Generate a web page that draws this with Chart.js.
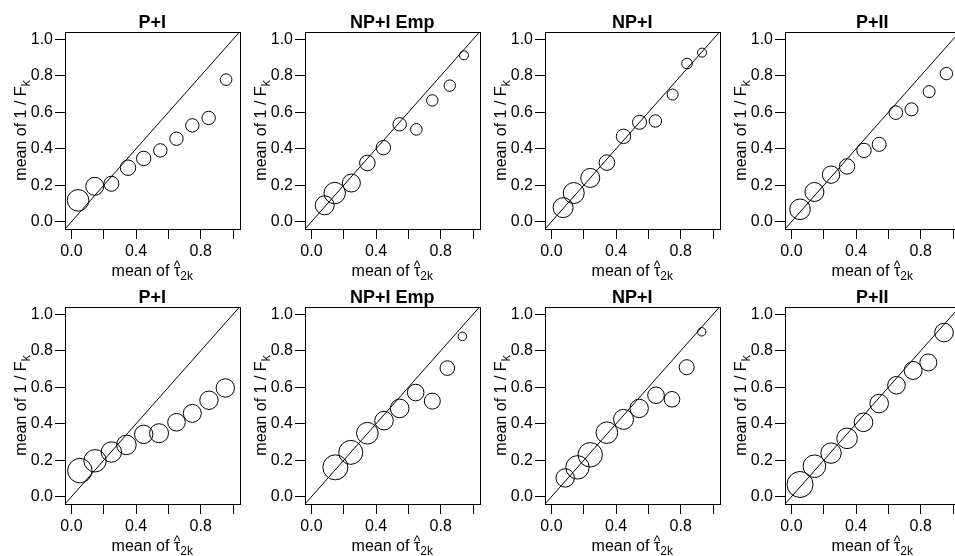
<!DOCTYPE html>
<html><head><meta charset="utf-8">
<script src="https://cdn.jsdelivr.net/npm/chart.js@4/dist/chart.umd.min.js"></script>
<style>
html,body{margin:0;padding:0;background:#fff;overflow:hidden;width:955px;height:556px;position:relative;}
.p{position:absolute;width:244px;height:285px;}
</style></head><body>
<script>
// ---- tick / axis definitions ----
const axisRange = [-0.04, 1.04];
const xTicks = [0, 0.2, 0.4, 0.6, 0.8, 1.0];
const xTickLabels = ['0.0', '', '0.4', '', '0.8', ''];
const yTicks = [0, 0.2, 0.4, 0.6, 0.8, 1.0];
const yTickLabels = ['0.0', '0.2', '0.4', '0.6', '0.8', '1.0'];
const panelTitles = ['P+I', 'NP+I Emp', 'NP+I', 'P+II', 'P+I', 'NP+I Emp', 'NP+I', 'P+II'];

// ---- data: mean of tau-hat (x), mean of 1/F_k (y), circle size (radius) ----
const topPI_x = [0.041, 0.144, 0.247, 0.350, 0.447, 0.550, 0.650, 0.748, 0.849, 0.957];
const topPI_y = [0.117, 0.194, 0.208, 0.296, 0.347, 0.391, 0.455, 0.528, 0.569, 0.779];
const topPI_r = [10.8, 9.0, 7.5, 7.7, 7.2, 6.7, 6.7, 6.7, 6.7, 5.8];

const topNPIEmp_x = [0.082, 0.144, 0.247, 0.346, 0.445, 0.546, 0.649, 0.748, 0.856, 0.944];
const topNPIEmp_y = [0.090, 0.157, 0.212, 0.322, 0.406, 0.534, 0.506, 0.665, 0.746, 0.912];
const topNPIEmp_r = [9.5, 10.7, 9.0, 7.8, 7.2, 6.7, 5.8, 5.7, 5.7, 4.5];

const topNPI_x = [0.072, 0.138, 0.240, 0.343, 0.446, 0.545, 0.643, 0.750, 0.839, 0.932];
const topNPI_y = [0.077, 0.157, 0.240, 0.324, 0.468, 0.545, 0.552, 0.697, 0.867, 0.927];
const topNPI_r = [10.0, 10.5, 9.5, 7.8, 7.2, 7.0, 6.2, 5.5, 5.3, 4.5];

const topPII_x = [0.053, 0.142, 0.245, 0.344, 0.449, 0.543, 0.646, 0.743, 0.852, 0.959];
const topPII_y = [0.068, 0.163, 0.258, 0.303, 0.391, 0.424, 0.598, 0.616, 0.713, 0.812];
const topPII_r = [10.3, 9.5, 8.7, 7.7, 7.2, 7.0, 6.8, 6.5, 6.0, 6.2];

const botPI_x = [0.052, 0.146, 0.247, 0.340, 0.447, 0.542, 0.650, 0.748, 0.851, 0.952];
const botPI_y = [0.143, 0.197, 0.245, 0.284, 0.342, 0.348, 0.408, 0.457, 0.529, 0.596];
const botPI_r = [12.2, 11.2, 10.2, 9.8, 9.2, 9.5, 8.8, 9.0, 9.2, 9.2];

const botNPIEmp_x = [0.148, 0.243, 0.346, 0.449, 0.546, 0.645, 0.748, 0.841, 0.934];
const botNPIEmp_y = [0.161, 0.243, 0.348, 0.417, 0.484, 0.571, 0.524, 0.705, 0.879];
const botNPIEmp_r = [12.5, 12.0, 10.8, 9.3, 9.3, 8.3, 8.0, 7.3, 4.3];

const botNPI_x = [0.085, 0.161, 0.240, 0.343, 0.446, 0.543, 0.647, 0.746, 0.837, 0.930];
const botNPI_y = [0.103, 0.161, 0.230, 0.351, 0.424, 0.484, 0.556, 0.534, 0.710, 0.904];
const botNPI_r = [9.2, 11.7, 12.2, 10.8, 10.0, 9.2, 8.3, 7.8, 7.5, 4.2];

const botPII_x = [0.053, 0.142, 0.245, 0.344, 0.446, 0.543, 0.650, 0.753, 0.847, 0.944];
const botPII_y = [0.067, 0.167, 0.239, 0.320, 0.408, 0.511, 0.611, 0.692, 0.736, 0.900];
const botPII_r = [13.0, 11.3, 10.2, 10.3, 9.3, 9.3, 8.8, 9.0, 8.5, 9.3];

const panels = [
  [topPI_x, topPI_y, topPI_r], [topNPIEmp_x, topNPIEmp_y, topNPIEmp_r],
  [topNPI_x, topNPI_y, topNPI_r], [topPII_x, topPII_y, topPII_r],
  [botPI_x, botPI_y, botPI_r], [botNPIEmp_x, botNPIEmp_y, botNPIEmp_r],
  [botNPI_x, botNPI_y, botNPI_r], [botPII_x, botPII_y, botPII_r]
];

const FAM = '"Liberation Sans", Arial, Helvetica, sans-serif';

function drawSegs(ctx, segs, x, y) {
  let total = 0;
  segs.forEach(s => { ctx.font = s.font; s.w = ctx.measureText(s.t).width; total += s.w; });
  let cx = x - total / 2;
  ctx.textBaseline = 'alphabetic';
  segs.forEach(s => {
    ctx.font = s.font; ctx.textAlign = 'left';
    ctx.fillText(s.t, cx, y + (s.dy || 0));
    if (s.hat) {
      ctx.font = '14px ' + FAM; ctx.textAlign = 'center';
      ctx.fillText('^', cx + s.w / 2, y - 5);
    }
    cx += s.w;
  });
}

const framePlugin = {
  id: 'frame',
  afterDraw(chart, args, opts) {
    const ctx = chart.ctx, a = chart.chartArea;
    ctx.save();
    ctx.strokeStyle = '#000'; ctx.lineWidth = 1;
    ctx.strokeRect(Math.round(a.left) + 0.5, Math.round(a.top) + 0.5,
                   Math.round(a.right - a.left), Math.round(a.bottom - a.top));
    ctx.fillStyle = '#000';
    const cx = (a.left + a.right) / 2;
    // panel title
    ctx.font = 'bold 18px ' + FAM; ctx.textAlign = 'center'; ctx.textBaseline = 'alphabetic';
    ctx.fillText(opts.title, cx, a.top - 4.5);
    // x axis title
    drawSegs(ctx, [
      {t: 'mean of ', font: '16px ' + FAM},
      {t: 'τ', font: '16px ' + FAM, hat: true},
      {t: '2k', font: '12px ' + FAM, dy: 4}
    ], cx, a.bottom + 46.5);
    // y axis title
    ctx.translate(26, (a.top + a.bottom) / 2);
    ctx.rotate(-Math.PI / 2);
    drawSegs(ctx, [
      {t: 'mean of 1 / F', font: '16px ' + FAM},
      {t: 'k', font: '12px ' + FAM, dy: 4}
    ], 0, 0);
    ctx.restore();
  }
};

panels.forEach((p, idx) => {
  const col = idx % 4, row = Math.floor(idx / 4);
  const div = document.createElement('div');
  div.className = 'p';
  div.style.left = (col * 240) + 'px';
  div.style.top = (row * 275) + 'px';
  const cv = document.createElement('canvas');
  cv.width = 244; cv.height = 285;
  div.appendChild(cv);
  document.body.appendChild(div);
  const [xs, ys, rs] = p;
  new Chart(cv, {
    type: 'scatter',
    data: {
      datasets: [
        { data: [{x: axisRange[0], y: axisRange[0]}, {x: axisRange[1], y: axisRange[1]}],
          showLine: true, borderColor: '#000', borderWidth: 1, pointRadius: 0, fill: false },
        { data: xs.map((x, i) => ({x: x, y: ys[i]})),
          pointRadius: rs, pointBackgroundColor: 'rgba(0,0,0,0)',
          pointBorderColor: '#000', pointBorderWidth: 1, showLine: false }
      ]
    },
    options: {
      responsive: false, animation: false, events: [],
      layout: { autoPadding: false, padding: { left: 0, top: 32, right: 4.5, bottom: 0 } },
      plugins: { legend: { display: false }, tooltip: { enabled: false }, frame: { title: panelTitles[idx] } },
      scales: {
        x: {
          type: 'linear', min: axisRange[0], max: axisRange[1],
          afterBuildTicks: s => { s.ticks = xTicks.map(v => ({value: v})); },
          afterFit: s => { s.height = 56; },
          grid: { drawOnChartArea: false, drawTicks: true, tickLength: 10, color: '#000', lineWidth: 1 },
          border: { display: false },
          ticks: { autoSkip: false, maxRotation: 0, padding: 3, color: '#000',
                   font: { size: 16, family: FAM },
                   callback: (v, i) => xTickLabels[i] }
        },
        y: {
          type: 'linear', min: axisRange[0], max: axisRange[1],
          afterBuildTicks: s => { s.ticks = yTicks.map(v => ({value: v})); },
          afterFit: s => { s.width = 65; },
          grid: { drawOnChartArea: false, drawTicks: true, tickLength: 10, color: '#000', lineWidth: 1 },
          border: { display: false },
          ticks: { autoSkip: false, padding: 2, color: '#000',
                   font: { size: 16, family: FAM },
                   callback: (v, i) => yTickLabels[i] }
        }
      }
    },
    plugins: [framePlugin]
  });
});
</script>
</body></html>
